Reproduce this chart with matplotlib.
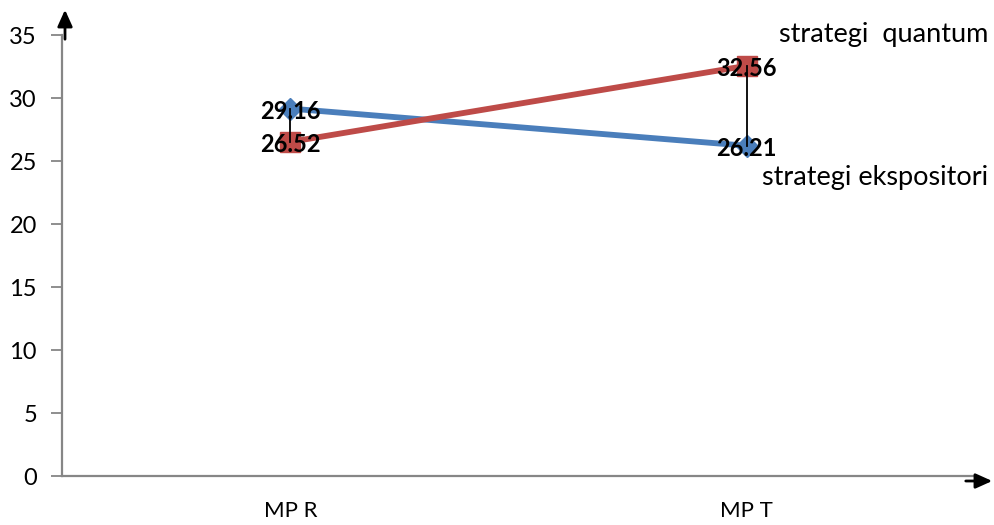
import matplotlib.pyplot as plt

categories = ['MP R', 'MP T']
ekspositori = [29.16, 26.21]
quantum = [26.52, 32.56]
yticks = [0, 5, 10, 15, 20, 25, 30, 35]

plt.rcParams['font.family'] = ['Lato', 'DejaVu Sans']

fig = plt.figure(figsize=(9.95, 5.25), dpi=100)
ax = fig.add_axes([0.0623, 0.0933, 0.9177, 0.84])

x = range(len(categories))
blue = '#4a7ebb'
red = '#be4b48'

ax.plot(x, ekspositori, color=blue, lw=4.2, marker='D', ms=11, zorder=3)
ax.plot(x, quantum, color=red, lw=4.2, marker='s', ms=14, zorder=3)

# high-low lines between the two series
for i in x:
    ax.plot([i, i], [ekspositori[i], quantum[i]], color='black', lw=1.3, zorder=4)

for i in x:
    for v in (ekspositori[i], quantum[i]):
        ax.annotate(f'{v:.2f}', (i, v), xytext=(0, -2), textcoords='offset points',
                    ha='center', va='center', fontsize=17, fontweight='bold',
                    color='black', zorder=5)

ax.set_xlim(-0.5, 1.5)
ax.set_ylim(0, 35)
ax.set_xticks(list(x))
ax.set_xticklabels(categories, fontsize=16)
ax.set_yticks(yticks)
ax.set_yticklabels([str(t) for t in yticks], fontsize=17)
ax.tick_params(axis='x', length=0, pad=18)
ax.tick_params(axis='y', length=8, width=1.3, color='#868686', pad=10)

for s in ['top', 'right']:
    ax.spines[s].set_visible(False)
for s in ['left', 'bottom']:
    ax.spines[s].set_color('#868686')
    ax.spines[s].set_linewidth(1.6)

# series names
fig.text(0.993, 0.935, 'strategi  quantum', ha='right', va='center', fontsize=19.5)
fig.text(0.993, 0.661, 'strategi ekspositori', ha='right', va='center', fontsize=19.5)

# axis arrows
arrow = dict(arrowstyle='-|>,head_length=1.0,head_width=0.45', color='black', lw=2)
ax.annotate('', xy=(65, 518), xytext=(65, 483), xycoords='figure pixels',
            textcoords='figure pixels', arrowprops=arrow)
ax.annotate('', xy=(995, 44), xytext=(963, 44), xycoords='figure pixels',
            textcoords='figure pixels', arrowprops=arrow)

fig.savefig('out.png', dpi=100)
